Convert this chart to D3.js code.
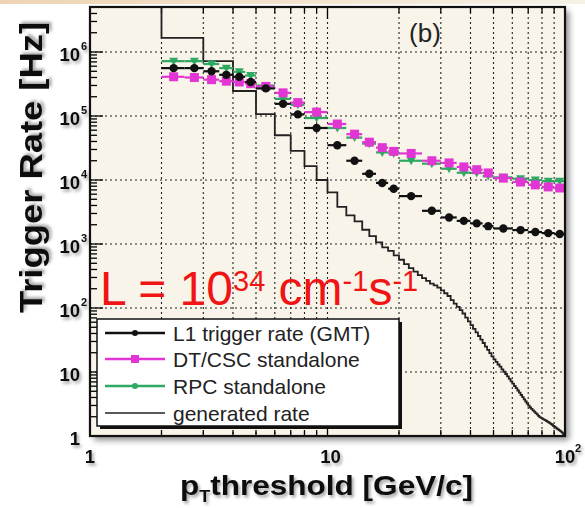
<!DOCTYPE html>
<html><head><meta charset="utf-8">
<script src="https://cdn.jsdelivr.net/npm/d3@7"></script>
<style>
html,body{margin:0;padding:0;background:#fff;}
svg{display:block;font-family:"Liberation Sans",Arial,sans-serif;}
</style></head><body>
<svg id="chart" width="585" height="508"></svg>
<script>
// ---------------- data ----------------
const binEdges = [2,2.5,3,3.5,4,4.5,5,6,7,8,10,12,14,16,18,20,25,30,35,40,45,50,60,70,80,90,100];
const l1Rate    = [5.6e5,5.6e5,5.0e5,4.4e5,4.1e5,3.4e5,2.7e5,1.55e5,1.06e5,6.5e4,3.5e4,2.0e4,1.25e4,9.0e3,7.3e3,5.6e3,3.3e3,2.6e3,2.3e3,2.1e3,1.9e3,1.75e3,1.65e3,1.54e3,1.48e3,1.43e3];
const dtcscRate = [4.1e5,4.0e5,3.7e5,3.5e5,3.4e5,3.2e5,2.9e5,2.3e5,1.62e5,1.15e5,7.5e4,5.2e4,3.9e4,3.2e4,2.8e4,2.6e4,2.0e4,1.85e4,1.6e4,1.45e4,1.29e4,1.07e4,9.3e3,8.4e3,7.8e3,7.5e3];
const rpcRate   = [7.2e5,7.2e5,6.5e5,5.6e5,4.9e5,4.3e5,3.0e5,1.85e5,1.5e5,9.3e4,6.5e4,4.6e4,3.7e4,2.7e4,2.6e4,2.0e4,1.8e4,1.5e4,1.3e4,1.29e4,1.15e4,1.1e4,1.05e4,1.0e4,9.6e3,9.6e3];

const genEdges = [2,3,4,5,6,7,8,9,10,11,12,13,14,15,16,17,18,19,20,21,22,23,24,25,26,27,28,29,30,
  31,32,33,34,35,36,37,38,39,40,41,42,43,44,45,46,47,48,49,50,51,52,53,54,55,56,57,58,59,60,
  61,62,63,64,65,66,67,68,69,70,71,72,73,74,75,76,77,78,79,80,81,82,83,84,85,86,87,88,89,90,
  91,92,93,94,95,96,97,98,99,100];
const genRate = [1.66e6,7.2e5,2.46e5,1.07e5,5.0e4,2.85e4,1.65e4,1.0e4,6.4e3,3.81e3,
  2.8e3,2.25e3,1.67e3,1.33e3,1.06e3,885,780,663,568,485,
  419,369,327,294,266,241,225,208,188,170,
  154,133,117,104,92.7,82,70.8,61.8,53.9,47.1,
  41.6,36.5,32.1,28.4,25.0,22.1,19.7,17.5,15.8,14.4,
  13.1,12.1,11.0,10.1,9.31,8.53,7.83,7.16,6.59,6.04,
  5.58,5.14,4.75,4.37,4.04,3.74,3.46,3.21,2.99,2.79,
  2.65,2.52,2.40,2.28,2.18,2.07,1.97,1.92,1.87,1.82,
  1.77,1.73,1.68,1.64,1.59,1.54,1.50,1.44,1.40,1.36,
  1.31,1.28,1.24,1.20,1.17,1.13,1.08,1.03];

const xDomain = [1, 100];
const yDomain = [1, 5.05e6];
const xTickValues = [1, 10, 100];
const xTickBase   = ["1", "10", "10"];
const xTickExp    = ["", "", "2"];
const yTickValues = [1, 10, 100, 1e3, 1e4, 1e5, 1e6];
const yTickBase   = ["1", "10", "10", "10", "10", "10", "10"];
const yTickExp    = ["", "", "2", "3", "4", "5", "6"];
const legendLabels = ["L1 trigger rate (GMT)", "DT/CSC standalone", "RPC standalone", "generated rate"];

// ---------------- layout ----------------
const svg = d3.select("#chart");
const L = 90, R = 565, T = 7, B = 436;
const x = d3.scaleLog().domain(xDomain).range([L, R]);
const y = d3.scaleLog().domain(yDomain).range([B, T]);

const colL1 = "#111", colDT = "#e236d4", colRPC = "#2fa862";

const defs = svg.append("defs");
const fShadow = defs.append("filter").attr("id","blur").attr("x","-20%").attr("y","-20%").attr("width","140%").attr("height","140%");
fShadow.append("feGaussianBlur").attr("stdDeviation", 3);
const fText = defs.append("filter").attr("id","tshadow").attr("x","-20%").attr("y","-30%").attr("width","140%").attr("height","160%");
fText.append("feDropShadow").attr("dx",2).attr("dy",2.5).attr("stdDeviation",1.6).attr("flood-color","#000").attr("flood-opacity",0.35);
defs.append("clipPath").attr("id","plotclip").append("rect").attr("x",L).attr("y",T).attr("width",R-L).attr("height",B-T);

// faint coloured blur at the very top (background of source picture)
const topGrad = defs.append("linearGradient").attr("id","topg").attr("x1",0).attr("x2",1);
topGrad.append("stop").attr("offset","0%").attr("stop-color","#e9c9a0");
topGrad.append("stop").attr("offset","50%").attr("stop-color","#f0dcc0");
topGrad.append("stop").attr("offset","100%").attr("stop-color","#f3efe0");
svg.append("rect").attr("x",0).attr("y",0).attr("width",585).attr("height",4).attr("fill","url(#topg)").attr("opacity",0.8);

// frame shadow
svg.append("rect").attr("x",L+4).attr("y",T+4).attr("width",R-L).attr("height",B-T)
  .attr("fill","#6a6a6a").attr("filter","url(#blur)").attr("opacity",0.8);
// plot background
svg.append("rect").attr("x",L).attr("y",T).attr("width",R-L).attr("height",B-T).attr("fill","#f8f4e9");

// grid
const gGrid = svg.append("g").attr("stroke","#222").attr("stroke-width",1.1).attr("stroke-dasharray","2,3");
const xAll = x.ticks().filter(v => v > xDomain[0] && v < xDomain[1]);
gGrid.selectAll(".vg").data(xAll).join("line")
  .attr("x1", d => x(d)).attr("x2", d => x(d)).attr("y1", T).attr("y2", B);
const yDec = yTickValues.filter(v => v > yDomain[0]);
gGrid.selectAll(".hg").data(yDec).join("line")
  .attr("x1", L).attr("x2", R).attr("y1", d => y(d)).attr("y2", d => y(d));

// ticks
const gTicks = svg.append("g").attr("stroke","#000").attr("stroke-width",1.3);
const isMajor = v => Math.abs(Math.log10(v) - Math.round(Math.log10(v))) < 1e-9;
const yAll = y.ticks().filter(v => v >= yDomain[0] && v <= yDomain[1]);
gTicks.selectAll(".yt").data(yAll).join("line")
  .attr("x1", L).attr("x2", d => L + (isMajor(d) ? 13 : 7))
  .attr("y1", d => y(d)).attr("y2", d => y(d));
gTicks.selectAll(".xtb").data(xAll).join("line")
  .attr("x1", d => x(d)).attr("x2", d => x(d))
  .attr("y1", B).attr("y2", d => B - (isMajor(d) ? 12 : 6));
gTicks.selectAll(".xtt").data(xAll).join("line")
  .attr("x1", d => x(d)).attr("x2", d => x(d))
  .attr("y1", T).attr("y2", d => T + (isMajor(d) ? 12 : 6));

// data
const gData = svg.append("g").attr("clip-path","url(#plotclip)");

// generated rate histogram
const genPts = [[genEdges[0], yDomain[1]]]
  .concat(genRate.map((v,i) => [genEdges[i], v]))
  .concat([[genEdges[genEdges.length-1], genRate[genRate.length-1]]]);
gData.append("path")
  .attr("d", d3.line().x(d => x(d[0])).y(d => y(d[1])).curve(d3.curveStepAfter)(genPts))
  .attr("fill","none").attr("stroke","#222").attr("stroke-width",1.8);

function series(values, color, shape) {
  const pts = values.map((v,i) => ({lo: binEdges[i], hi: binEdges[i+1], c: (binEdges[i]+binEdges[i+1])/2, v}));
  const g = gData.append("g");
  g.selectAll("line").data(pts).join("line")
    .attr("x1", d => x(d.lo)).attr("x2", d => x(d.hi))
    .attr("y1", d => y(d.v)).attr("y2", d => y(d.v))
    .attr("stroke", color).attr("stroke-width", 2.2);
  if (shape === "circle") {
    g.selectAll("circle").data(pts).join("circle")
      .attr("cx", d => x(d.c)).attr("cy", d => y(d.v)).attr("r", 4.2).attr("fill", color);
  } else if (shape === "square") {
    g.selectAll("rect").data(pts).join("rect")
      .attr("x", d => x(d.c) - 4.5).attr("y", d => y(d.v) - 4.5)
      .attr("width", 9).attr("height", 9).attr("fill", color);
  } else {
    g.selectAll("path").data(pts).join("path")
      .attr("d", d => { const cx = x(d.c), cy = y(d.v);
        return `M${cx-4.5},${cy-3.5}L${cx+4.5},${cy-3.5}L${cx},${cy+4.5}Z`; })
      .attr("fill", color);
  }
}
series(rpcRate, colRPC, "triangle");
series(dtcscRate, colDT, "square");
series(l1Rate, colL1, "circle");

// frame
svg.append("rect").attr("x",L).attr("y",T).attr("width",R-L).attr("height",B-T)
  .attr("fill","none").attr("stroke","#111").attr("stroke-width",2.2);

// tick labels
const gLab = svg.append("g").attr("font-weight","bold").attr("fill","#111").attr("filter","url(#tshadow)");
yTickValues.forEach((v,i) => {
  gLab.append("text").attr("x", 80).attr("y", y(v) + 8.5).attr("text-anchor","end")
    .attr("font-size", 18.5).text(yTickBase[i]);
  if (yTickExp[i]) gLab.append("text").attr("x", 81).attr("y", y(v) - 2)
    .attr("font-size", 11).text(yTickExp[i]);
});
xTickValues.forEach((v,i) => {
  const cx = x(v) + (i === 1 ? 3 : 0);
  gLab.append("text").attr("x", cx).attr("y", 463).attr("text-anchor","middle")
    .attr("font-size", 18.5).text(xTickBase[i]);
  if (xTickExp[i]) gLab.append("text").attr("x", cx + 10).attr("y", 452)
    .attr("font-size", 11).text(xTickExp[i]);
});

// axis titles
svg.append("text").attr("transform","translate(42,313) rotate(-90)")
  .attr("font-size", 32).attr("font-weight","bold").attr("fill","#111").attr("filter","url(#tshadow)")
  .attr("textLength", 291).attr("lengthAdjust","spacingAndGlyphs")
  .text("Trigger Rate [Hz]");
const xt = svg.append("text").attr("x", 180).attr("y", 495)
  .attr("font-size", 28).attr("font-weight","bold").attr("fill","#111").attr("filter","url(#tshadow)")
  .attr("textLength", 293).attr("lengthAdjust","spacingAndGlyphs");
xt.append("tspan").text("p");
xt.append("tspan").attr("font-size",16).attr("dy",7).text("T");
xt.append("tspan").attr("dy",-7).text("threshold [GeV/c]");

// (b)
svg.append("text").attr("x", 425).attr("y", 42).attr("text-anchor","middle")
  .attr("font-size", 26).attr("fill","#222").text("(b)");

// luminosity label
const lum = svg.append("text").attr("x", 100).attr("y", 305).attr("font-size", 48).attr("fill","#f01414");
lum.append("tspan").text("L = 10");
lum.append("tspan").attr("font-size",29).attr("dy",-14).text("34");
lum.append("tspan").attr("dy",14).text(" cm");
lum.append("tspan").attr("font-size",29).attr("dy",-14).text("-1");
lum.append("tspan").attr("dy",14).text("s");
lum.append("tspan").attr("font-size",29).attr("dy",-14).text("-1");

// legend
const lg = svg.append("g");
lg.append("rect").attr("x",100).attr("y",322).attr("width",302).attr("height",107).attr("fill","#111");
lg.append("rect").attr("x",97).attr("y",319).attr("width",302).attr("height",107)
  .attr("fill","#fff").attr("stroke","#111").attr("stroke-width",1.5);
const legRowY = [333, 359, 386, 413];
const legCols = [colL1, colDT, colRPC, "#222"];
legendLabels.forEach((lab,i) => {
  const ry = legRowY[i];
  lg.append("line").attr("x1",105).attr("x2",165).attr("y1",ry).attr("y2",ry)
    .attr("stroke", legCols[i]).attr("stroke-width", i === 3 ? 1.6 : 2.4);
  if (i === 0) lg.append("circle").attr("cx",135).attr("cy",ry).attr("r",3).attr("fill",colL1);
  if (i === 1) lg.append("rect").attr("x",131).attr("y",ry-4).attr("width",8).attr("height",8).attr("fill",colDT);
  if (i === 2) lg.append("circle").attr("cx",135).attr("cy",ry).attr("r",3).attr("fill",colRPC);
  lg.append("text").attr("x",173).attr("y",ry+7.5).attr("font-size",21).attr("fill","#222").text(lab);
});
</script>
</body></html>
